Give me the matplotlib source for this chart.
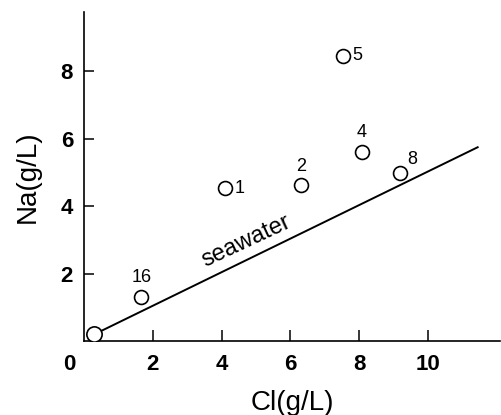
import matplotlib
matplotlib.use("Agg")
import matplotlib.pyplot as plt

# Data
cl = [0.29, 1.66, 4.10, 6.30, 7.53, 8.08, 9.19]
na = [0.20, 1.30, 4.54, 4.63, 8.46, 5.60, 5.00]
labels = ["", "16", "1", "2", "5", "4", "8"]
seawater_cl = [0.29, 11.45]
seawater_na = [0.20, 5.75]
xticks = [2, 4, 6, 8, 10]
yticks = [2, 4, 6, 8]

plt.rcParams['font.family'] = ['Liberation Sans', 'DejaVu Sans']

fig = plt.figure(figsize=(5.01, 4.15), dpi=100)
ax = fig.add_axes([0.168, 0.178, 0.830, 0.793])
ax.set_xlim(0, 12.1)
ax.set_ylim(0, 9.76)

ax.plot(seawater_cl, seawater_na, color='black', lw=1.4, zorder=2)
sizes = [11] + [10] * (len(cl) - 1)
for x, y, s in zip(cl, na, sizes):
    ax.plot([x], [y], 'o', ms=s, mfc='white', mec='black', mew=1.2, zorder=3)

offsets = {"16": (0, 8, 'center', 'bottom'), "1": (7, 0, 'left', 'center'),
           "2": (0, 7, 'center', 'bottom'), "5": (7, 0, 'left', 'center'),
           "4": (0, 8, 'center', 'bottom'), "8": (5, 3, 'left', 'bottom')}
for x, y, lab in zip(cl, na, labels):
    if lab:
        dx, dy, ha, va = offsets[lab]
        ax.annotate(lab, (x, y), xytext=(dx, dy), textcoords='offset points',
                    ha=ha, va=va, fontsize=13)

ax.text(4.73, 2.97, "seawater", rotation=25, ha='center', va='center',
        fontsize=17, rotation_mode='anchor')

for s in ['top', 'right']:
    ax.spines[s].set_visible(False)
for s in ['left', 'bottom']:
    ax.spines[s].set_linewidth(1.2)

ax.set_xticks(xticks)
ax.set_yticks(yticks)
ax.tick_params(axis='both', direction='in', width=1.1, labelsize=16)
ax.tick_params(axis='x', length=8, pad=9)
ax.tick_params(axis='y', length=7, pad=8)
for t in ax.get_xticklabels() + ax.get_yticklabels():
    t.set_fontweight('bold')

ax.text(-0.42, -0.7, "0", ha='center', va='center', fontsize=16,
        fontweight='bold')

ax.set_xlabel("Cl(g/L)", fontsize=20, labelpad=11)
ax.set_ylabel("Na(g/L)", fontsize=20, labelpad=14)

fig.savefig("out.png", dpi=100)
